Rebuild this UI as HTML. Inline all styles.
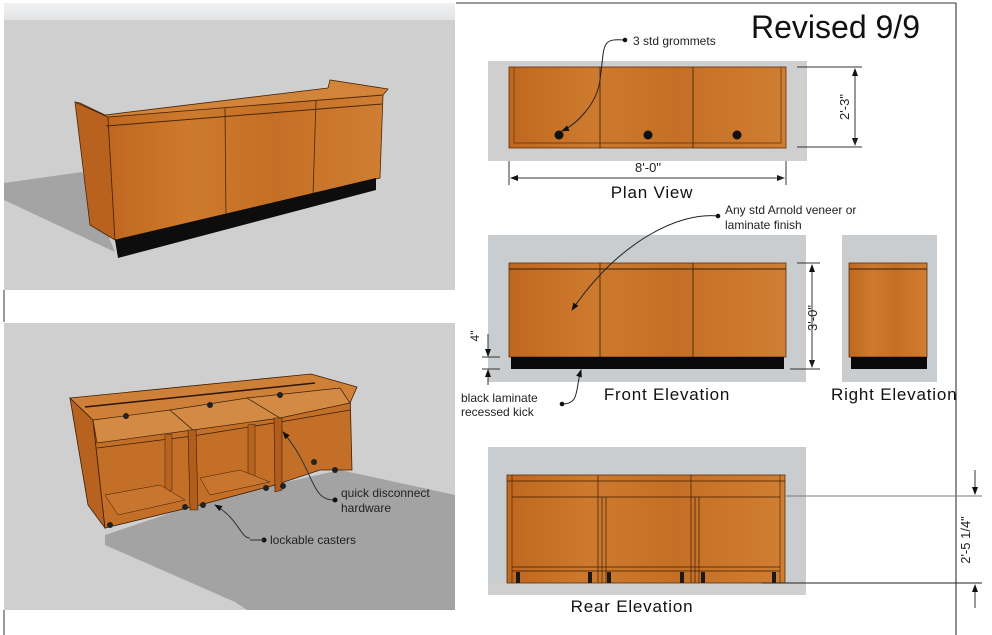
<!DOCTYPE html>
<html><head><meta charset="utf-8"><style>
html,body{margin:0;padding:0;background:#fff;}
svg{display:block;font-family:"Liberation Sans","DejaVu Sans",sans-serif;}
</style></head><body>
<svg width="992" height="635" viewBox="0 0 992 635" xmlns="http://www.w3.org/2000/svg">
<defs>
<linearGradient id="w" x1="0" y1="0" x2="1" y2="0">
<stop offset="0" stop-color="#c0671f"/><stop offset="0.3" stop-color="#cd7a2e"/><stop offset="0.6" stop-color="#c46f25"/><stop offset="1" stop-color="#d07e33"/>
</linearGradient>
<linearGradient id="top" x1="0" y1="0" x2="0" y2="1">
<stop offset="0" stop-color="#f0f1f2"/><stop offset="1" stop-color="#e2e4e5"/>
</linearGradient>
<marker id="ah" markerWidth="8" markerHeight="8" refX="7" refY="4" orient="auto" markerUnits="userSpaceOnUse"><path d="M0,1 L8,4 L0,7 Z" fill="#111"/></marker>
</defs>

<!-- top-left render -->
<rect x="4" y="3" width="451" height="17" fill="url(#top)"/>
<rect x="4" y="20" width="451" height="270" fill="#cfcfcf"/>
<polygon points="4,183 82,172 115,252 4,200" fill="#a4a4a4"/>
<polygon points="75,102 108,117 115,240 90,225" fill="#b9621f" stroke="#4a2608" stroke-width="0.8"/>
<polygon points="108,117 383,95 380,178 115,240" fill="url(#w)" stroke="#4a2608" stroke-width="0.8"/>
<polygon points="75,102 108,117 383,95 388,89 330,80 328,88 105,115 80,103" fill="#d2843a" stroke="#4a2608" stroke-width="0.8"/>
<line x1="106" y1="126" x2="382" y2="104" stroke="#4a2608" stroke-width="1"/>
<line x1="225" y1="108" x2="226" y2="217" stroke="#4a2608" stroke-width="0.8"/>
<line x1="316" y1="101" x2="313" y2="195" stroke="#4a2608" stroke-width="0.8"/>
<polygon points="115,240 118,258 376,190 376,178" fill="#0d0d0d"/>
<line x1="4" y1="290" x2="4" y2="322" stroke="#333" stroke-width="1"/>

<!-- bottom-left render -->
<rect x="4" y="323" width="451" height="287" fill="#cfcfcf"/>
<polygon points="105,535 215,498 340,470 455,495 455,610 247,610 235,602 105,545" fill="#a3a3a3"/>
<polygon points="70,398 93,420 105,528 88,505" fill="#b8621f" stroke="#3a1e06" stroke-width="0.8"/>
<polygon points="93,420 350,390 352,470 320,470 275,485 200,505 105,528" fill="#c46f27" stroke="#3a1e06" stroke-width="0.8"/>
<polygon points="70,398 311,374 357,387 350,403 93,420" fill="#cf8038" stroke="#3a1e06" stroke-width="0.8"/>
<line x1="85" y1="407" x2="315" y2="383" stroke="#2a1404" stroke-width="1.5"/>
<polygon points="93,420 170,410 193,430 97,443" fill="#d38a45" stroke="#3a1e06" stroke-width="0.7"/>
<polygon points="170,410 247,398 280,418 193,430" fill="#d38a45" stroke="#3a1e06" stroke-width="0.7"/>
<polygon points="247,398 340,388 350,403 280,418" fill="#d38a45" stroke="#3a1e06" stroke-width="0.7"/>
<line x1="97" y1="448" x2="193" y2="436" stroke="#3a1e06" stroke-width="0.8"/>
<line x1="193" y1="436" x2="280" y2="422" stroke="#3a1e06" stroke-width="0.8"/>
<line x1="280" y1="422" x2="350" y2="410" stroke="#3a1e06" stroke-width="0.8"/>
<polygon points="188,430 196,430 198,510 190,510" fill="#b25d1c" stroke="#3a1e06" stroke-width="0.6"/>
<polygon points="274,418 282,418 282,490 275,492" fill="#b25d1c" stroke="#3a1e06" stroke-width="0.6"/>
<polygon points="165,435 172,434 172,490 165,492" fill="#b86420" stroke="#3a1e06" stroke-width="0.5"/>
<polygon points="248,425 255,424 255,480 248,482" fill="#b86420" stroke="#3a1e06" stroke-width="0.5"/>
<polygon points="105,495 160,485 185,500 118,515" fill="#c87530" stroke="#3a1e06" stroke-width="0.5"/>
<polygon points="200,478 240,470 270,482 210,495" fill="#c87530" stroke="#3a1e06" stroke-width="0.5"/>
<g fill="#222"><circle cx="110" cy="525" r="3"/><circle cx="185" cy="507" r="3"/><circle cx="203" cy="505" r="3"/><circle cx="266" cy="488" r="3"/><circle cx="283" cy="486" r="3"/><circle cx="314" cy="462" r="3"/><circle cx="335" cy="470" r="3"/><circle cx="126" cy="416" r="3"/><circle cx="210" cy="405" r="3"/><circle cx="280" cy="395" r="3"/></g>
<path d="M250,538 C240,538 240,520 215,505" fill="none" stroke="#333" stroke-width="1" marker-end="url(#ah)"/>
<circle cx="264" cy="540" r="2.5" fill="#111"/>
<line x1="250" y1="540" x2="264" y2="540" stroke="#333"/>
<path d="M334,500 C310,500 315,470 283,432" fill="none" stroke="#333" stroke-width="1" marker-end="url(#ah)"/>
<circle cx="335" cy="500" r="2.5" fill="#111"/>
<text x="270" y="544" font-size="12" fill="#222">lockable casters</text>
<text x="341" y="497" font-size="12" fill="#222">quick disconnect</text>
<text x="341" y="512" font-size="12" fill="#222">hardware</text>
<line x1="4" y1="610" x2="4" y2="635" stroke="#333" stroke-width="1"/>

<!-- frame -->
<line x1="456" y1="3" x2="956" y2="3" stroke="#333" stroke-width="1"/>
<line x1="956" y1="3" x2="956" y2="635" stroke="#222" stroke-width="1"/>
<text x="751" y="38" font-size="32" fill="#111">Revised 9/9</text>

<!-- plan view -->
<rect x="488" y="61" width="319" height="100" fill="#cfcfcf"/>
<rect x="509" y="67" width="277" height="81" fill="url(#w)" stroke="#5a2f0c" stroke-width="0.8"/>
<polyline points="514,67 514,143 781,143 781,67" fill="none" stroke="#5a2f0c" stroke-width="0.7"/>
<line x1="600" y1="67" x2="600" y2="148" stroke="#3a1e06" stroke-width="0.8"/>
<line x1="693" y1="67" x2="693" y2="148" stroke="#3a1e06" stroke-width="0.8"/>
<g fill="#111"><circle cx="559" cy="135" r="4.5"/><circle cx="648" cy="135" r="4.5"/><circle cx="737" cy="135" r="4.5"/></g>
<path d="M625,40 C600,38 605,45 600,80 C597,105 575,125 562,131" fill="none" stroke="#222" stroke-width="1" marker-end="url(#ah)"/>
<circle cx="625" cy="40" r="2.3" fill="#111"/>
<text x="633" y="45" font-size="12" fill="#222">3 std grommets</text>
<line x1="509" y1="161" x2="509" y2="185" stroke="#333"/>
<line x1="786" y1="161" x2="786" y2="185" stroke="#333"/>
<line x1="511" y1="178" x2="784" y2="178" stroke="#333" marker-end="url(#ah)"/>
<line x1="784" y1="178" x2="511" y2="178" stroke="#333" marker-end="url(#ah)"/>
<text x="648" y="172" font-size="13" fill="#222" text-anchor="middle">8'-0"</text>
<text x="652" y="198" font-size="17" fill="#111" text-anchor="middle" letter-spacing="0.8">Plan View</text>
<line x1="797" y1="67" x2="862" y2="67" stroke="#333"/>
<line x1="797" y1="147" x2="862" y2="147" stroke="#333"/>
<line x1="855" y1="69" x2="855" y2="145" stroke="#333" marker-end="url(#ah)"/>
<line x1="855" y1="145" x2="855" y2="69" stroke="#333" marker-end="url(#ah)"/>
<text x="0" y="0" font-size="13" fill="#222" text-anchor="middle" transform="translate(849,107) rotate(-90)">2'-3"</text>

<!-- front elevation -->
<rect x="488" y="235" width="318" height="147" fill="#c9cdd0"/>
<rect x="509" y="263" width="277" height="94" fill="url(#w)" stroke="#5a2f0c" stroke-width="0.8"/>
<line x1="509" y1="269" x2="786" y2="269" stroke="#3a1e06" stroke-width="1"/>
<line x1="600" y1="263" x2="600" y2="357" stroke="#3a1e06" stroke-width="0.8"/>
<line x1="693" y1="263" x2="693" y2="357" stroke="#3a1e06" stroke-width="0.8"/>
<rect x="511" y="357" width="273" height="12" fill="#0a0a0a"/>
<line x1="797" y1="263" x2="820" y2="263" stroke="#333"/>
<line x1="790" y1="369" x2="820" y2="369" stroke="#333"/>
<line x1="812" y1="265" x2="812" y2="367" stroke="#333" marker-end="url(#ah)"/>
<line x1="812" y1="367" x2="812" y2="265" stroke="#333" marker-end="url(#ah)"/>
<text x="0" y="0" font-size="13" fill="#222" text-anchor="middle" transform="translate(817,318) rotate(-90)">3'-0"</text>
<rect x="842" y="235" width="95" height="147" fill="#c9cdd0"/>
<rect x="849" y="263" width="78" height="94" fill="url(#w)" stroke="#5a2f0c" stroke-width="0.8"/>
<line x1="849" y1="269" x2="927" y2="269" stroke="#3a1e06" stroke-width="1"/>
<rect x="851" y="357" width="76" height="12" fill="#0a0a0a"/>
<text x="667" y="400" font-size="17" fill="#111" text-anchor="middle" letter-spacing="0.8">Front Elevation</text>
<text x="831" y="400" font-size="17" fill="#111" letter-spacing="0.8">Right Elevation</text>
<path d="M718,216 C680,212 620,240 572,310" fill="none" stroke="#222" stroke-width="1" marker-end="url(#ah)"/>
<circle cx="718" cy="216" r="2.3" fill="#111"/>
<text x="725" y="214" font-size="12" fill="#222">Any std Arnold veneer or</text>
<text x="725" y="229" font-size="12" fill="#222">laminate finish</text>
<line x1="482" y1="357" x2="500" y2="357" stroke="#333"/>
<line x1="482" y1="369" x2="500" y2="369" stroke="#333"/>
<line x1="488" y1="334" x2="488" y2="356" stroke="#333" marker-end="url(#ah)"/>
<line x1="488" y1="385" x2="488" y2="370" stroke="#333" marker-end="url(#ah)"/>
<text x="0" y="0" font-size="12" fill="#222" text-anchor="middle" transform="translate(479,336) rotate(-90)">4"</text>
<path d="M562,404 C580,404 575,390 581,370" fill="none" stroke="#222" stroke-width="1" marker-end="url(#ah)"/>
<circle cx="562" cy="404" r="2.3" fill="#111"/>
<text x="461" y="402" font-size="12" fill="#222">black laminate</text>
<text x="461" y="416" font-size="12" fill="#222">recessed kick</text>

<!-- rear elevation -->
<rect x="488" y="447" width="318" height="148" fill="#c9cdd0"/>
<rect x="488" y="583" width="318" height="12" fill="#cfcfcf"/>
<rect x="507" y="475" width="278" height="108" fill="url(#w)" stroke="#5a2f0c" stroke-width="0.8"/>
<line x1="507" y1="481" x2="785" y2="481" stroke="#3a1e06" stroke-width="0.8"/>
<line x1="512" y1="497" x2="780" y2="497" stroke="#3a1e06" stroke-width="0.8"/>
<line x1="512" y1="475" x2="512" y2="583" stroke="#3a1e06" stroke-width="0.6"/>
<line x1="780" y1="475" x2="780" y2="583" stroke="#3a1e06" stroke-width="0.6"/>
<g stroke="#3a1e06" stroke-width="0.7" fill="none">
<line x1="598" y1="475" x2="598" y2="583"/><line x1="602" y1="497" x2="602" y2="583"/><line x1="606" y1="497" x2="606" y2="583"/>
<line x1="691" y1="475" x2="691" y2="583"/><line x1="695" y1="497" x2="695" y2="583"/><line x1="699" y1="497" x2="699" y2="583"/>
<line x1="512" y1="567" x2="780" y2="567"/><line x1="512" y1="571" x2="780" y2="571"/>
</g>
<g fill="#1a1a1a"><rect x="516" y="572" width="4" height="11"/><rect x="588" y="572" width="4" height="11"/><rect x="607" y="572" width="4" height="11"/><rect x="680" y="572" width="4" height="11"/><rect x="701" y="572" width="4" height="11"/><rect x="772" y="572" width="4" height="11"/></g>
<line x1="785" y1="496" x2="982" y2="496" stroke="#777" stroke-width="1"/>
<line x1="762" y1="583" x2="982" y2="583" stroke="#222" stroke-width="1"/>
<line x1="975" y1="470" x2="975" y2="494" stroke="#333" marker-end="url(#ah)"/>
<line x1="975" y1="608" x2="975" y2="585" stroke="#333" marker-end="url(#ah)"/>
<text x="0" y="0" font-size="13" fill="#222" text-anchor="middle" transform="translate(970,540) rotate(-90)">2'-5 1/4"</text>
<text x="632" y="612" font-size="17" fill="#111" text-anchor="middle" letter-spacing="0.8">Rear Elevation</text>
</svg>
</body></html>
